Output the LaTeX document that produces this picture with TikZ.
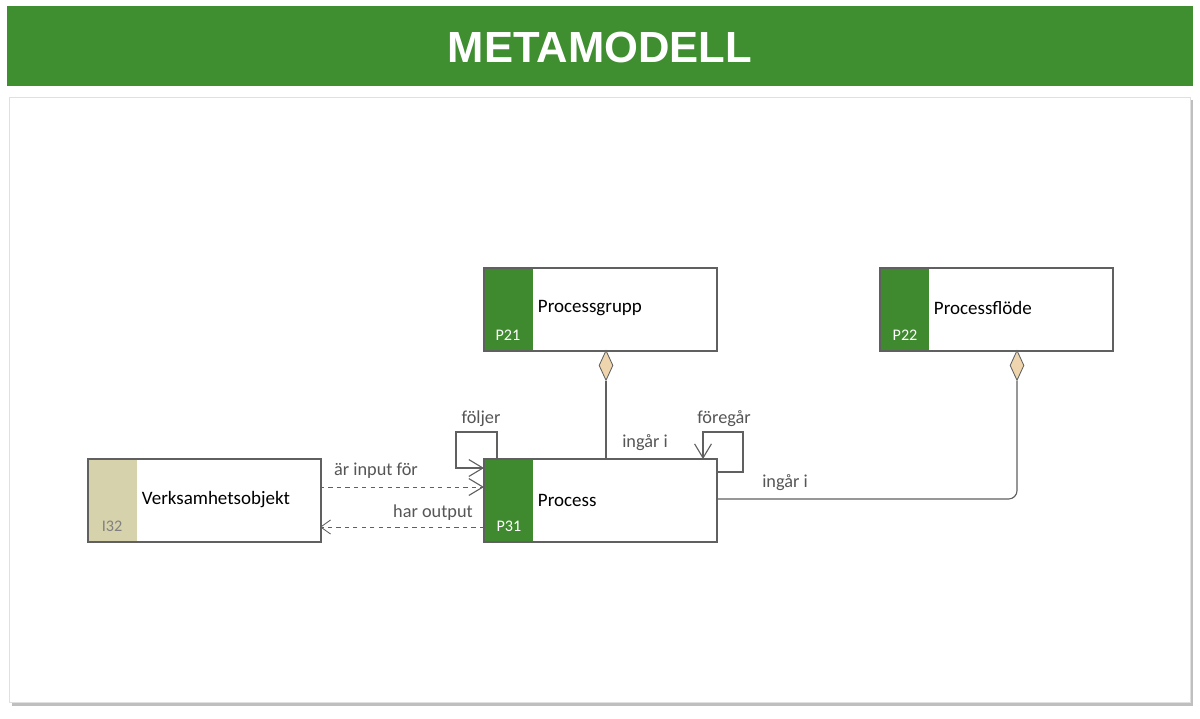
\documentclass[tikz,border=0pt]{standalone}
\usepackage{fontspec}
\setmainfont{Carlito}
\newfontfamily\ttlfont{Liberation Sans}
\usetikzlibrary{arrows.meta,shapes.geometric}
\definecolor{hdr}{HTML}{3F8E30}
\definecolor{pg}{HTML}{3F8A2F}
\definecolor{beige}{HTML}{D6D2AC}
\definecolor{ln}{HTML}{606060}
\begin{document}
\begin{tikzpicture}[x=0.025cm,y=-0.025cm,
  box/.style={draw=ln,fill=white,line width=0.8pt,minimum width=232*0.025cm,minimum height=82*0.025cm,inner sep=0,anchor=north west},
  strip/.style={fill=#1,minimum width=49*0.025cm,minimum height=82*0.025cm,inner sep=0,anchor=north west},
  lbl/.style={font=\fontsize{13.5}{15}\selectfont,anchor=west},
  code/.style={font=\fontsize{11.5}{13}\selectfont,text=white},
  el/.style={font=\fontsize{13}{15}\selectfont,text=ln!90!black},
  con/.style={draw=ln,line width=0.8pt},
  dia/.style={diamond,draw=ln,fill=beige!70!orange!60,line width=0.6pt,minimum width=14*0.025cm,minimum height=30*0.025cm,inner sep=0,aspect=0.45},
  oa/.style={-{Straight Barb[length=10pt,width=12pt,line width=0.8pt]}}]
\useasboundingbox (0,0) rectangle (1200,718);
\fill[white] (0,0) rectangle (1200,718);
\fill[hdr] (7,6) rectangle (1193,86);
\node[text=white,font=\ttlfont\fontsize{31}{34}\bfseries\selectfont] (title) at (600,47) {METAMODELL};
\fill[black!25] (12,100) rectangle (1193,706);
\draw[black!12,fill=white] (9,97) rectangle (1190,702);
% boxes
\node[box] (pg) at (484,268) {};
\node[strip=pg] (pgs) at (pg.north west) {};
\draw[ln,line width=0.8pt] (pg.north west) rectangle (pg.south east);
\node[lbl] at (533,308) {Processgrupp};
\node[code] at (508,335) {P21};
\node[box] (pf) at (880,268) {};
\node[strip=pg] (pfs) at (pf.north west) {};
\draw[ln,line width=0.8pt] (pf.north west) rectangle (pf.south east);
\node[lbl] at (929,308) {Processflöde};
\node[code] at (905,335) {P22};
\node[box] (pr) at (484,459) {};
\node[strip=pg] (prs) at (pr.north west) {};
\draw[ln,line width=0.8pt] (pr.north west) rectangle (pr.south east);
\node[lbl] at (533,500) {Process};
\node[code] at (509,526) {P31};
\node[box] (vo) at (88,459) {};
\node[strip=beige] (vos) at (vo.north west) {};
\draw[ln,line width=0.8pt] (vo.north west) rectangle (vo.south east);
\node[lbl] at (137,500) {Verksamhetsobjekt};
\node[code,text=black!50] at (112,526) {I32};
% diamonds
\node[dia,anchor=north] (d1) at (606,350) {};
\node[dia,anchor=north] (d2) at (1017,350) {};
\draw[con] (d1.south) -- (606,459);
\draw[con,rounded corners=6pt] (d2.south) -- (1017,499) -- (716,499);
\coordinate (f1) at (497,459);
\coordinate (f2) at (484,468);
\draw[con,oa] (f1) -- (497,432) -- (456,432) -- (456,468) -- (f2);
\coordinate (g1) at (716,472);
\coordinate (g2) at (703,459);
\draw[con,oa] (g1) -- (743,472) -- (743,432) -- (703,432) -- (g2);
\coordinate (a1) at (320,487); \coordinate (a2) at (484,487);
\coordinate (b1) at (484,527); \coordinate (b2) at (320,527);
\draw[con,dashed,line width=0.6pt,oa] (a1) -- (a2);
\draw[con,dashed,line width=0.6pt,-{Straight Barb[length=7pt,width=10pt,line width=0.6pt]}] (b1) -- (b2);
\node[el] at (376,471) {är input för};
\node[el] at (433,513) {har output};
\node[el] at (645,443) {ingår i};
\node[el] at (785,483) {ingår i};
\node[el] at (481,419) {följer};
\node[el] at (724,419) {föregår};
\end{tikzpicture}
\end{document}
